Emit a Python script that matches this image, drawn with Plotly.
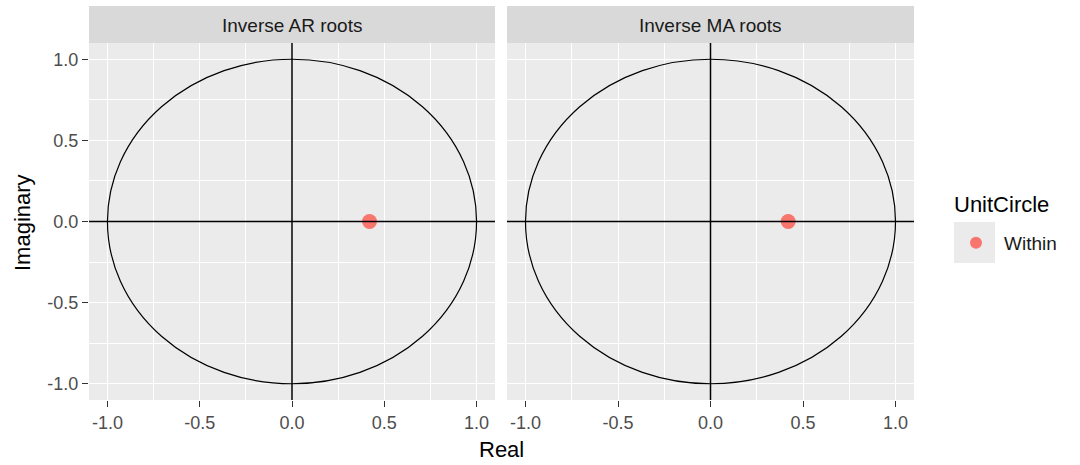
import plotly.graph_objects as go
from plotly.subplots import make_subplots

# ---- data ----
panels = ["Inverse AR roots", "Inverse MA roots"]
real_part = [0.42, 0.42]
imag_part = [0.0, 0.0]
unit_circle = ["Within", "Within"]
tick_vals = [-1.0, -0.5, 0.0, 0.5, 1.0]
tick_text = ["-1.0", "-0.5", "0.0", "0.5", "1.0"]

W, H = 1080, 465
FONT = "Liberation Sans, Arial"
def px_x(p):
    return p / W
def px_y(p):
    return (H - p) / H

fig = make_subplots(rows=1, cols=2, shared_yaxes=True)

for i, name in enumerate(panels):
    fig.add_trace(go.Scatter(
        x=[real_part[i]], y=[imag_part[i]], mode="markers",
        marker=dict(color="#F8766D", size=15),
        name=unit_circle[i], legendgroup=unit_circle[i],
        showlegend=(i == 0), hoverinfo="skip"), row=1, col=i + 1)

x_domains = [[px_x(89), px_x(495)], [px_x(507), px_x(914)]]
y_domain = [px_y(400), px_y(43)]

axis_common = dict(
    range=[-1.1, 1.1], tickvals=tick_vals, ticktext=tick_text,
    showgrid=True, gridcolor="white", gridwidth=1.4,
    minor=dict(dtick=0.25, tick0=0, showgrid=True, gridcolor="white", gridwidth=0.6),
    zeroline=False, showline=False,
    ticks="outside", ticklen=6, tickwidth=1.2, tickcolor="#333333",
    tickfont=dict(family=FONT, size=18, color="#4D4D4D"),
)
y2_common = {k: v for k, v in axis_common.items() if k != "ticks"}

fig.update_layout(
    xaxis=dict(domain=x_domains[0], **axis_common),
    xaxis2=dict(domain=x_domains[1], **axis_common),
    yaxis=dict(domain=y_domain, **axis_common),
    yaxis2=dict(domain=y_domain, matches="y", showticklabels=False, ticks="", **y2_common),
)

shapes = []
for i, name in enumerate(panels):
    xr = "x" if i == 0 else "x2"
    yr = "y" if i == 0 else "y2"
    shapes.append(dict(type="rect", xref=xr + " domain", yref=yr + " domain",
                       x0=0, x1=1, y0=0, y1=1, fillcolor="#EBEBEB",
                       line=dict(width=0), layer="below"))
    shapes.append(dict(type="rect", xref=xr + " domain", yref="paper",
                       x0=0, x1=1, y0=px_y(43), y1=px_y(6), fillcolor="#D9D9D9",
                       line=dict(width=0), layer="below"))
    shapes.append(dict(type="circle", xref=xr, yref=yr, x0=-1, y0=-1, x1=1, y1=1,
                       line=dict(color="black", width=1.2), layer="above"))
    shapes.append(dict(type="line", xref=xr, yref=yr + " domain", x0=0, x1=0, y0=0, y1=1,
                       line=dict(color="black", width=1.5), layer="above"))
    shapes.append(dict(type="line", xref=xr + " domain", yref=yr, x0=0, x1=1, y0=0, y1=0,
                       line=dict(color="black", width=1.5), layer="above"))

# legend key background
shapes.append(dict(type="rect", xref="paper", yref="paper",
                   x0=px_x(954), x1=px_x(995), y0=px_y(263), y1=px_y(222),
                   fillcolor="#EBEBEB", line=dict(width=0), layer="below"))

annotations = []
for i, name in enumerate(panels):
    d = x_domains[i]
    annotations.append(dict(text=name, xref="paper", yref="paper",
                            x=(d[0] + d[1]) / 2, y=px_y(26), showarrow=False,
                            xanchor="center", yanchor="middle",
                            font=dict(family=FONT, size=19, color="#1A1A1A")))
annotations.append(dict(text="Real", xref="paper", yref="paper",
                        x=(x_domains[0][0] + x_domains[1][1]) / 2, y=px_y(449),
                        showarrow=False, xanchor="center", yanchor="middle",
                        font=dict(family=FONT, size=22, color="black")))
annotations.append(dict(text="Imaginary", xref="paper", yref="paper",
                        x=px_x(22), y=px_y(223), textangle=-90,
                        showarrow=False, xanchor="center", yanchor="middle",
                        font=dict(family=FONT, size=22, color="black")))
annotations.append(dict(text="UnitCircle", xref="paper", yref="paper",
                        x=px_x(952), y=px_y(204), showarrow=False,
                        xanchor="left", yanchor="middle",
                        font=dict(family=FONT, size=22, color="black")))

fig.update_layout(
    width=W, height=H,
    margin=dict(l=0, r=0, t=0, b=0),
    paper_bgcolor="white", plot_bgcolor="rgba(0,0,0,0)",
    shapes=shapes, annotations=annotations,
    showlegend=True,
    legend=dict(
        font=dict(family=FONT, size=19, color="#1A1A1A"),
        x=px_x(948), y=px_y(243), xanchor="left", yanchor="middle",
        bgcolor="rgba(0,0,0,0)", itemsizing="constant", itemwidth=46,
    ),
)

fig.write_html("out.html", post_script="document.body.style.margin='0';",
               config={"displayModeBar": False})
